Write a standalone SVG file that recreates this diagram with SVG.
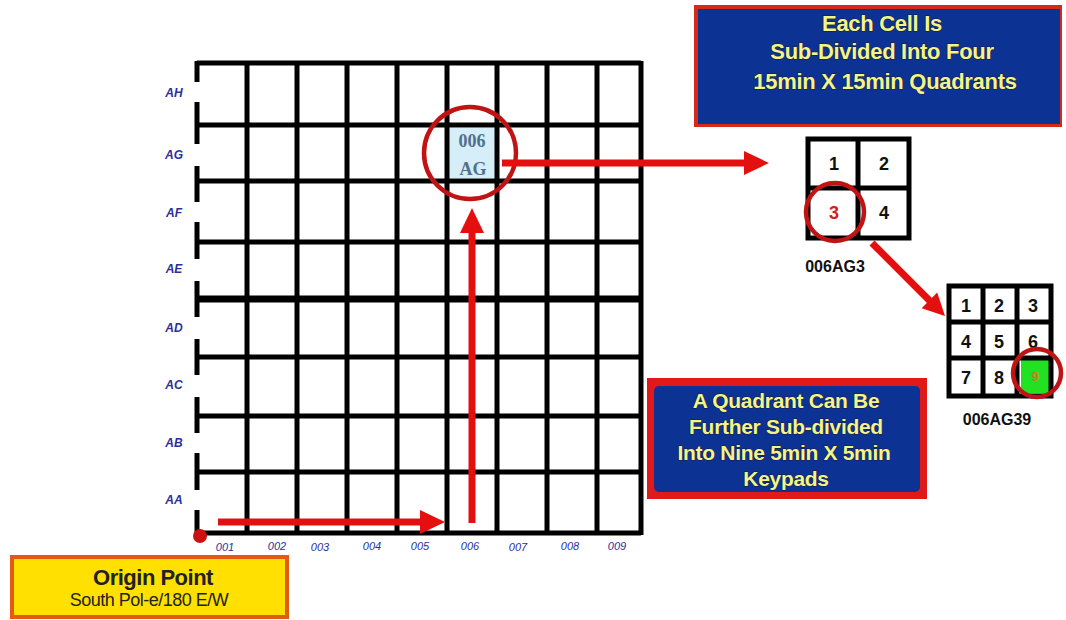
<svg xmlns="http://www.w3.org/2000/svg" width="1066" height="620" viewBox="0 0 1066 620">
<style>
.gl{stroke:#000;stroke-width:5;fill:none}
.rl{font-family:"Liberation Sans",Arial,sans-serif;font-style:italic;font-weight:bold;font-size:12px;fill:#2b2f9a}
.cl{font-family:"Liberation Sans",Arial,sans-serif;font-style:italic;font-size:11px;fill:#2b2f9a}
.red{stroke:#e41010;fill:none}
.redf{fill:#e41010}
.ring{stroke:#c01414;stroke-width:4.5;fill:none}
.bt{font-family:"Liberation Sans",Arial,sans-serif;font-weight:700;fill:#f2f48e;stroke:#1a1a30;stroke-width:1;paint-order:stroke;text-anchor:middle;letter-spacing:-0.3px}
.num{font-family:"Liberation Sans",Arial,sans-serif;font-weight:bold;font-size:18px;fill:#111;text-anchor:middle}
.cap{font-family:"Liberation Sans",Arial,sans-serif;font-weight:bold;font-size:16px;fill:#111;text-anchor:middle}
</style>
<rect width="1066" height="620" fill="#fff"/>

<g id="grid">
  <rect x="449" y="128" width="47" height="50" fill="#d6eef8"/>
  <g class="gl">
    <line x1="197" y1="63" x2="641" y2="63"/>
    <line x1="197" y1="125" x2="641" y2="125"/>
    <line x1="197" y1="181" x2="641" y2="181"/>
    <line x1="197" y1="242" x2="641" y2="242"/>
    <line x1="197" y1="299" x2="641" y2="299" stroke-width="7"/>
    <line x1="197" y1="357" x2="641" y2="357"/>
    <line x1="197" y1="416" x2="641" y2="416"/>
    <line x1="197" y1="472" x2="641" y2="472"/>
    <line x1="197" y1="533" x2="641" y2="533"/>
    <line x1="247" y1="61" x2="247" y2="535"/>
    <line x1="297" y1="61" x2="297" y2="535"/>
    <line x1="347" y1="61" x2="347" y2="535"/>
    <line x1="397" y1="61" x2="397" y2="535"/>
    <line x1="447" y1="61" x2="447" y2="535"/>
    <line x1="497" y1="61" x2="497" y2="535"/>
    <line x1="547" y1="61" x2="547" y2="535"/>
    <line x1="597" y1="61" x2="597" y2="535"/>
    <line x1="641" y1="61" x2="641" y2="535"/>
    <line x1="197" y1="61" x2="197" y2="82"/>
    <line x1="197" y1="102" x2="197" y2="144"/>
    <line x1="197" y1="166" x2="197" y2="202"/>
    <line x1="197" y1="222" x2="197" y2="259"/>
    <line x1="197" y1="281" x2="197" y2="317"/>
    <line x1="197" y1="339" x2="197" y2="375"/>
    <line x1="197" y1="397" x2="197" y2="433"/>
    <line x1="197" y1="453" x2="197" y2="490"/>
    <line x1="197" y1="510" x2="197" y2="535"/>
  </g>
  <g class="rl" text-anchor="middle">
    <text x="174" y="97">AH</text>
    <text x="174" y="159">AG</text>
    <text x="174" y="217">AF</text>
    <text x="174" y="273">AE</text>
    <text x="174" y="332">AD</text>
    <text x="174" y="389">AC</text>
    <text x="174" y="447">AB</text>
    <text x="174" y="504">AA</text>
  </g>
  <g class="cl" text-anchor="middle">
    <text x="225" y="551">001</text>
    <text x="277" y="550">002</text>
    <text x="320" y="551">003</text>
    <text x="372" y="550">004</text>
    <text x="420" y="550">005</text>
    <text x="470" y="550">006</text>
    <text x="518" y="551">007</text>
    <text x="570" y="550">008</text>
    <text x="617" y="550">009</text>
  </g>
  <g font-family="'Liberation Serif',serif" font-weight="bold" font-size="18" fill="#51708e" text-anchor="middle">
    <text x="472" y="147">006</text>
    <text x="473" y="175">AG</text>
  </g>
  <circle cx="200" cy="536" r="7" fill="#cc1010"/>
</g>

<g id="cell-ring">
  <circle class="ring" cx="470" cy="153" r="46"/>
</g>

<g id="quadrants">
  <rect x="808" y="139" width="101" height="99" fill="#fff" stroke="#000" stroke-width="5"/>
  <line x1="858" y1="139" x2="858" y2="238" stroke="#000" stroke-width="5"/>
  <line x1="808" y1="188" x2="909" y2="188" stroke="#000" stroke-width="5"/>
  <text class="num" x="834" y="170">1</text>
  <text class="num" x="884" y="170">2</text>
  <text class="num" x="834" y="219" style="fill:#d02020">3</text>
  <text class="num" x="884" y="219">4</text>
  <circle class="ring" cx="835" cy="212" r="29"/>
  <text class="cap" x="835" y="272">006AG3</text>
</g>

<g id="keypads">
  <rect x="1021" y="358" width="28" height="35" fill="#22e022"/>
  <rect x="949" y="286" width="102" height="110" fill="none" stroke="#000" stroke-width="5"/>
  <line x1="983" y1="286" x2="983" y2="396" stroke="#000" stroke-width="5"/>
  <line x1="1017" y1="286" x2="1017" y2="396" stroke="#000" stroke-width="5"/>
  <line x1="949" y1="322" x2="1051" y2="322" stroke="#000" stroke-width="5"/>
  <line x1="949" y1="358" x2="1051" y2="358" stroke="#000" stroke-width="5"/>
  <g font-family="'Liberation Sans Narrow','Liberation Sans',Arial,sans-serif" font-weight="bold" font-size="18" fill="#111" text-anchor="middle">
    <text x="966" y="312">1</text>
    <text x="999" y="312">2</text>
    <text x="1033" y="312">3</text>
    <text x="966" y="348">4</text>
    <text x="999" y="348">5</text>
    <text x="1033" y="348">6</text>
    <text x="966" y="384">7</text>
    <text x="999" y="384">8</text>
    <text x="1035" y="381" font-size="13" fill="#e07020">9</text>
  </g>
  <circle class="ring" cx="1037" cy="373" r="24"/>
  <text class="cap" x="997" y="425">006AG39</text>
</g>

<g id="box-cell">
  <rect x="694" y="5" width="368" height="122" fill="#d42a1a"/>
  <rect x="698" y="9" width="362" height="115" fill="#0c3294"/>
  <text class="bt" x="882" y="31" font-size="22">Each Cell Is</text>
  <text class="bt" x="882" y="59" font-size="22">Sub-Divided Into Four</text>
  <text class="bt" x="885" y="89" font-size="22">15min X 15min Quadrants</text>
</g>

<g id="box-quadrant">
  <rect x="647" y="378" width="280" height="121" fill="#e01a1a"/>
  <rect x="654" y="386" width="266" height="106" rx="5" fill="#0c3294"/>
  <text class="bt" x="786" y="408" font-size="21">A Quadrant Can Be</text>
  <text class="bt" x="786" y="434" font-size="21">Further Sub-divided</text>
  <text class="bt" x="784" y="460" font-size="21">Into Nine 5min X 5min</text>
  <text class="bt" x="786" y="486" font-size="21">Keypads</text>
</g>

<g id="origin">
  <rect x="12" y="557" width="275" height="60" fill="#ffe000" stroke="#e45a10" stroke-width="4"/>
  <text x="153" y="585" font-family="'Liberation Sans',Arial,sans-serif" font-weight="bold" font-size="22" fill="#222" text-anchor="middle" letter-spacing="-0.5">Origin Point</text>
  <text x="149" y="606" font-family="'Liberation Sans',Arial,sans-serif" font-size="18" fill="#222" text-anchor="middle" letter-spacing="-0.5">South Pol-e/180 E/W</text>
</g>

<g id="connectors">
  <line class="red" x1="218" y1="522" x2="424" y2="522" stroke-width="7"/>
  <polygon class="redf" points="420,510 445,522 420,534"/>
  <line class="red" x1="472" y1="523" x2="472" y2="230" stroke-width="7"/>
  <polygon class="redf" points="460,233 472,208 484,233"/>
  <line class="red" x1="502" y1="163" x2="748" y2="163" stroke-width="7"/>
  <polygon class="redf" points="744,151 769,163 744,175"/>
  <line class="red" x1="872" y1="243" x2="931" y2="302" stroke-width="7"/>
  <polygon class="redf" points="921.6,308.2 945,316 937.2,292.6"/>
</g>
</svg>
